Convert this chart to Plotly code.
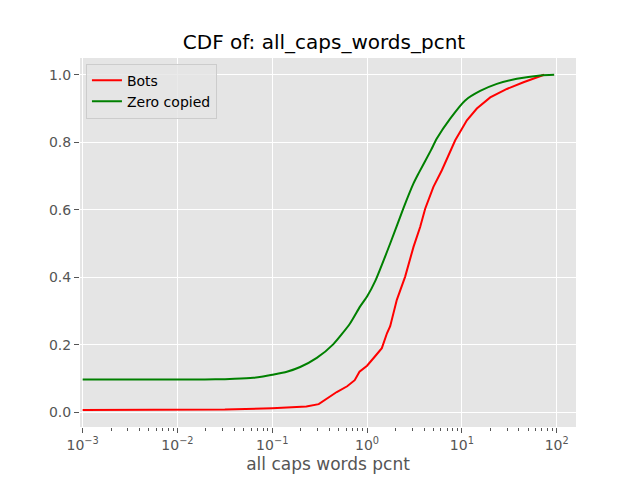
import plotly.graph_objects as go

# CDF values (x is percent, log axis)
bots_x = [0.001, 0.0316, 0.1, 0.229, 0.309, 0.38, 0.479, 0.617, 0.741, 0.832,
          0.955, 1.0, 1.216, 1.432, 1.622, 1.754, 2.061, 2.523, 3.09, 3.631,
          4.102, 5.012, 6.152, 7.534, 8.511, 11.3, 14.39, 19.91, 29.85, 44.67,
          61.66, 73.8]
bots_y = [0.007, 0.008, 0.012, 0.017, 0.024, 0.04, 0.06, 0.077, 0.095, 0.12,
          0.132, 0.138, 0.166, 0.19, 0.234, 0.255, 0.333, 0.402, 0.49, 0.549,
          0.603, 0.668, 0.717, 0.776, 0.806, 0.865, 0.9, 0.933, 0.958, 0.978,
          0.992, 1.0]

zero_x = [0.001, 0.0158, 0.0251, 0.04, 0.0631, 0.08, 0.1, 0.1426, 0.197, 0.295,
          0.4416, 0.661, 0.843, 1.0, 1.225, 1.754, 2.421, 3.09, 3.483, 4.71,
          5.445, 7.534, 10.84, 15.6, 23.39, 38.02, 66.99, 94.2]
zero_y = [0.097, 0.097, 0.0975, 0.099, 0.102, 0.106, 0.111, 0.12, 0.134, 0.161,
          0.202, 0.263, 0.313, 0.343, 0.39, 0.5, 0.605, 0.678, 0.707, 0.776,
          0.811, 0.87, 0.924, 0.952, 0.973, 0.988, 0.998, 1.0]

x_ticks = [0.001, 0.01, 0.1, 1, 10, 100]
x_labels = ["10<sup>\u22123</sup>", "10<sup>\u22122</sup>", "10<sup>\u22121</sup>",
            "10<sup>0</sup>", "10<sup>1</sup>", "10<sup>2</sup>"]

fig = go.Figure()
fig.add_trace(go.Scatter(x=bots_x, y=bots_y, mode="lines", name="Bots",
                         line=dict(color="red", width=2)))
fig.add_trace(go.Scatter(x=zero_x, y=zero_y, mode="lines", name="Zero copied",
                         line=dict(color="green", width=2, shape="spline", smoothing=0.6)))

# page body has an 8px margin, so the figure is 8px smaller than the window
fig.update_layout(
    width=632, height=472,
    margin=dict(l=72, r=64, t=50, b=53, autoexpand=False),
    paper_bgcolor="white",
    plot_bgcolor="#E5E5E5",
    font=dict(family="DejaVu Sans", size=14, color="#555555"),
    title=dict(text="CDF of: all_caps_words_pcnt", x=0.5, xanchor="center",
               y=0.928, yanchor="middle", font=dict(size=20, color="black")),
    legend=dict(x=0.012, y=0.985, xanchor="left", yanchor="top",
                bgcolor="rgba(229,229,229,0.8)", bordercolor="#CCCCCC", borderwidth=1,
                itemwidth=30, tracegroupgap=0,
                font=dict(size=14, color="black")),
    showlegend=True,
)

fig.update_xaxes(
    type="log", range=[-3.028, 2.204], automargin=False,
    tickvals=x_ticks, ticktext=x_labels,
    showgrid=True, gridcolor="white", gridwidth=1,
    ticks="outside", ticklen=5, tickcolor="#555555",
    minor=dict(ticks="outside", ticklen=2.5, tickcolor="#555555", dtick="D1", showgrid=False),
    zeroline=False, showline=False,
    title=dict(text="all caps words pcnt", font=dict(size=17, color="#555555"), standoff=6),
)
fig.update_yaxes(
    range=[-0.0437, 1.0497], automargin=False,
    tickvals=[0.0, 0.2, 0.4, 0.6, 0.8, 1.0], tickformat=".1f",
    showgrid=True, gridcolor="white", gridwidth=1,
    ticks="outside", ticklen=5, tickcolor="#555555",
    zeroline=False, showline=False,
)

fig.write_html("out.html")
